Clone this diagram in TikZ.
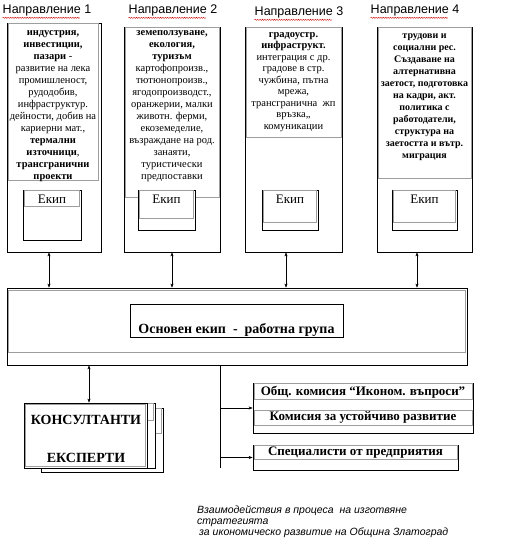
\documentclass[tikz,border=0pt]{standalone}
\usepackage{fontspec}
\setmainfont{Liberation Serif}
\newfontfamily\hdrfont{Liberation Sans}
\usetikzlibrary{arrows.meta,calc,positioning,decorations.pathmorphing}

\begin{document}
\begin{tikzpicture}[x=1pt,y=-1pt,>={Stealth[length=4pt,width=3pt]},
  box/.style={draw,fill=white,line width=0.8pt,inner sep=0pt},
  gbox/.style={draw=black!38,line width=0.8pt,inner sep=0pt},
  coltext/.style={align=center,inner sep=0pt,font=\fontsize{10.5}{12}\selectfont},
  hdr/.style={font=\hdrfont\fontsize{12.5}{14}\selectfont,inner sep=0pt},
  ekip/.style={font=\fontsize{13}{15}\selectfont,inner sep=0pt},
  bigtext/.style={font=\bfseries\fontsize{13}{15}\selectfont,inner sep=0pt},
  spell/.style={draw=red!80!black,line width=0.4pt,decorate,
    decoration={snake,amplitude=0.6pt,segment length=2.4pt}}]
  \useasboundingbox (0,0) rectangle (512,548);

  % headers
  \node[hdr] (h1) at (47,10) {Направление 1};
  \node[hdr] (h2) at (173,10) {Направление 2};
  \node[hdr] (h3) at (299,12) {Направление 3};
  \node[hdr] (h4) at (415,10) {Направление 4};
  \foreach \h in {h1,h2,h3,h4}
    \draw[spell] ($(\h.south west)+(0,2)$) -- ($(\h.south west)!0.87!(\h.south east)+(0,2)$);

  % the four directions
  \node[box,minimum width=94,minimum height=229] (col1) at (54,137.5) {};
  \node[box,minimum width=96,minimum height=225] (col2) at (172,139.5) {};
  \node[box,minimum width=97,minimum height=225] (col3) at (293.5,139.5) {};
  \node[box,minimum width=95,minimum height=225] (col4) at (424.5,139.5) {};

  \node[gbox,minimum width=90,minimum height=157] (g1) at (53,101.5) {};
  \node[gbox,minimum width=94,minimum height=170] (g2) at (172,112) {};
  \node[gbox,minimum width=95,minimum height=110] (g3) at (293.5,82) {};
  \node[gbox,minimum width=93,minimum height=151] (g4) at (424.5,102.5) {};

  \node[coltext,anchor=north] (t1) at (53,30) {\textbf{индустрия,}\\\textbf{инвестиции,}\\\textbf{пазари} -\\развитие на лека\\промишленост,\\рудодобив,\\инфраструктур.\\дейности, добив на\\кариерни мат.,\\\textbf{термални}\\\textbf{източници},\\\textbf{трансгранични}\\\textbf{проекти}};
  \node[coltext,anchor=north] (t2) at (172,30) {\textbf{земеползуване,}\\\textbf{екология,}\\\textbf{туризъм}\\картофопроизв.,\\тютюнопроизв.,\\ягодопроизводст.,\\оранжерии, малки\\животн. ферми,\\екоземеделие,\\възраждане на род.\\занаяти,\\туристически\\предпоставки};
  \node[coltext,anchor=north,font=\fontsize{10.5}{11.5}\selectfont] (t3) at (293.5,32) {\textbf{градоустр.}\\\textbf{инфраструкт.}\\интеграция с др.\\градове в стр.\\чужбина, пътна\\мрежа,\\трансгранична\ \ жп\\връзка,,\\комуникации};
  \node[coltext,anchor=north,font=\bfseries\fontsize{10}{12}\selectfont] (t4) at (424.5,34) {трудови и\\социални рес.\\Създаване на\\алтернативна\\заетост, подготовка\\на кадри, акт.\\политика с\\работодатели,\\структура на\\заетостта и вътр.\\миграция};

  % teams
  \node[box,minimum width=58,minimum height=50] (e1) at (52,215) {};
  \node[box,minimum width=57,minimum height=40] (e2) at (166.5,210) {};
  \node[box,minimum width=56,minimum height=40] (e3) at (290,210) {};
  \node[box,minimum width=65,minimum height=40] (e4) at (424.5,210) {};
  \node[gbox,minimum width=55,minimum height=16] (l1) at (52,198) {};
  \node[gbox,minimum width=54,minimum height=28] (l2) at (166.5,204) {};
  \node[gbox,minimum width=53,minimum height=32] (l3) at (290,206) {};
  \node[gbox,minimum width=62,minimum height=32] (l4) at (424.5,206) {};
  \node[ekip] (k1) at (52,199) {Екип};
  \node[ekip] (k2) at (166.5,199) {Екип};
  \node[ekip] (k3) at (290,199) {Екип};
  \node[ekip] (k4) at (424.5,199) {Екип};

  % main team
  \node[box,minimum width=460,minimum height=77] (main) at (237,326.5) {};
  \node[gbox,minimum width=457,minimum height=62] (mg) at (237,321) {};
  \node[box,minimum width=213,minimum height=33] (team) at (236.5,320.5) {};
  \node[bigtext,font=\bfseries\fontsize{14}{16}\selectfont] (teamtxt) at (236.5,330) {Основен екип\ \ -\ \ работна група};

  \draw[<->] (col1.south -| 49,0) -- (main.north -| 49,0);
  \draw[<->] (col2.south -| 172,0) -- (main.north -| 172,0);
  \draw[<->] (col3.south -| 286,0) -- (main.north -| 286,0);
  \draw[<->] (col4.south -| 417,0) -- (main.north -| 417,0);

  % consultants
  \node[box,minimum width=122,minimum height=64] (cons3) at (102,440) {};
  \node[gbox,minimum width=119,minimum height=25] (cg3) at (102,421) {};
  \node[box,minimum width=125,minimum height=65] (cons2) at (92.5,435.5) {};
  \node[gbox,minimum width=122,minimum height=17] (cg2) at (92.5,412) {};
  \node[box,minimum width=123,minimum height=65] (cons) at (85.5,435.5) {};
  \node[gbox,minimum width=120,minimum height=62] (cg) at (85.5,435.5) {};
  \node[bigtext,font=\bfseries\fontsize{14}{16}\selectfont] (ct1) at (86,420) {КОНСУЛТАНТИ};
  \node[bigtext,font=\bfseries\fontsize{14}{16}\selectfont] (ct2) at (86,458) {ЕКСПЕРТИ};
  \draw[<->] (main.south -| 89,0) -- (cons.north -| 89,0);

  % commissions
  \node[box,minimum width=220,minimum height=50] (grp1) at (363,408) {};
  \node[gbox,minimum width=218,minimum height=16] (gq1) at (363,391) {};
  \node[gbox,minimum width=218,minimum height=15] (gq2) at (363,417.5) {};
  \node[bigtext] (q1) at (363,392.5) {Общ. комисия “Иконом. въпроси”};
  \node[bigtext] (q2) at (363,417) {Комисия за устойчиво развитие};
  \node[box,minimum width=205,minimum height=25] (spec) at (355.5,457.5) {};
  \node[gbox,minimum width=203,minimum height=14] (gs) at (355.5,452) {};
  \node[bigtext] (s1) at (355.5,452.5) {Специалисти от предприятия};

  \coordinate (trunk) at (220,468);
  \draw (main.south -| trunk) -- (trunk);
  \draw[->] (main.south -| trunk) |- (grp1.west);
  \draw[->] (main.south -| trunk) |- (spec.west);

  % caption
  \node[anchor=north west,align=left,inner sep=0pt,
        font=\hdrfont\itshape\fontsize{10.5}{11}\selectfont] (cap) at (197,506)
    {Взаимодействия в процеса\ \ на изготвяне\\стратегията\\\hspace{2pt}за икономическо развитие на Община Златоград};
\end{tikzpicture}
\end{document}
